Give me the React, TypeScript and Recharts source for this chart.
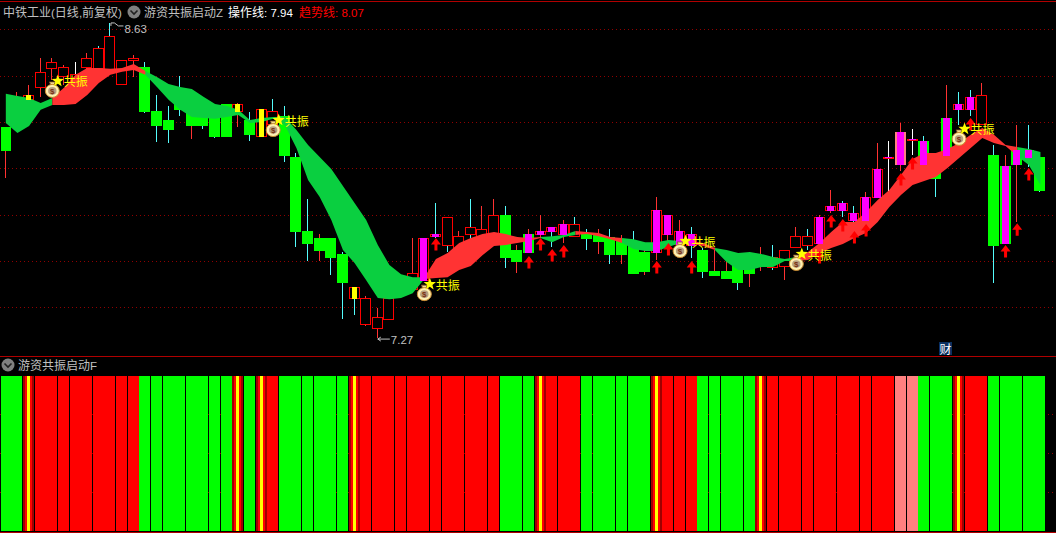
import React from "react";
import { ComposedChart, Bar, Area, Line, XAxis, YAxis, ReferenceLine } from "recharts";

const opens = [8.181,8.311,8.298,8.350,8.432,8.397,8.362,8.436,8.432,8.427,
8.362,8.466,8.440,8.250,8.211,8.306,8.246,8.246,8.237,8.280,
8.246,8.211,8.138,8.190,8.229,8.052,7.732,7.702,7.702,7.633,
7.438,7.326,7.309,7.348,7.451,7.477,7.516,7.706,7.667,7.615,
7.715,7.693,7.693,7.801,7.650,7.719,7.715,7.728,7.715,7.706,
7.723,7.715,7.706,7.697,7.667,7.641,7.637,7.715,7.672,7.667,
7.650,7.559,7.559,7.594,7.572,7.598,7.572,7.577,7.659,7.667,
7.676,7.818,7.818,7.775,7.775,7.875,8.047,8.017,8.125,8.121,
8.039,8.220,8.255,8.255,8.190,8.060,8.013,8.082,8.082,8.052];
const closes = [8.077,8.276,8.319,8.419,8.462,8.440,8.410,8.479,8.522,8.574,
8.470,8.479,8.246,8.185,8.168,8.255,8.185,8.185,8.138,8.138,
8.280,8.147,8.259,8.250,8.056,7.728,7.676,7.646,7.615,7.507,
7.490,7.443,7.361,7.443,7.512,7.551,7.702,7.719,7.793,7.710,
7.749,7.741,7.801,7.615,7.598,7.637,7.732,7.749,7.762,7.762,
7.697,7.684,7.628,7.628,7.546,7.555,7.823,7.801,7.732,7.719,
7.555,7.538,7.525,7.507,7.546,7.628,7.620,7.650,7.710,7.710,
7.793,7.840,7.853,7.810,7.879,8.000,8.052,8.160,8.129,8.017,
7.957,8.056,8.280,8.311,8.319,7.667,7.676,8.017,8.047,7.905];
const highs = [8.181,8.332,8.362,8.479,8.479,8.449,8.462,8.501,8.531,8.630,
8.470,8.492,8.462,8.319,8.272,8.401,8.298,8.276,8.263,8.280,
8.285,8.246,8.259,8.302,8.272,8.069,7.870,7.719,7.702,7.641,
7.490,7.451,7.400,7.443,7.520,7.702,7.702,7.853,7.793,7.732,
7.870,7.840,7.870,7.840,7.672,7.741,7.801,7.749,7.780,7.793,
7.741,7.741,7.741,7.715,7.732,7.650,7.879,7.801,7.780,7.749,
7.659,7.650,7.615,7.615,7.585,7.663,7.672,7.650,7.749,7.741,
7.801,7.909,7.862,7.840,7.900,8.112,8.121,8.198,8.172,8.142,
8.039,8.362,8.332,8.341,8.371,8.103,8.060,8.190,8.190,8.052];
const lows = [7.961,8.263,8.289,8.311,8.384,8.362,8.341,8.384,8.406,8.419,
8.362,8.397,8.242,8.116,8.112,8.229,8.129,8.172,8.134,8.138,
8.181,8.121,8.138,8.177,8.030,7.663,7.603,7.603,7.542,7.352,
7.369,7.322,7.270,7.348,7.443,7.469,7.516,7.702,7.641,7.615,
7.672,7.672,7.693,7.572,7.551,7.637,7.702,7.663,7.680,7.706,
7.650,7.633,7.590,7.590,7.546,7.542,7.607,7.680,7.650,7.615,
7.529,7.538,7.525,7.477,7.490,7.559,7.564,7.520,7.659,7.650,
7.594,7.810,7.793,7.693,7.710,7.875,7.905,7.991,8.060,8.017,
7.879,8.039,8.190,8.229,8.190,7.507,7.676,7.771,8.008,7.900];
const ribbonUpper = [8.324,8.315,8.306,8.285,8.306,8.350,8.406,8.436,8.436,8.432,
8.436,8.453,8.423,8.397,8.367,8.354,8.345,8.311,8.280,8.272,
8.255,8.211,8.220,8.224,8.224,8.168,8.103,8.052,8.000,7.926,
7.853,7.780,7.672,7.585,7.546,7.533,7.533,7.611,7.637,7.680,
7.702,7.719,7.728,7.719,7.706,7.702,7.706,7.710,7.715,7.732,
7.728,7.723,7.706,7.702,7.697,7.684,7.684,7.693,7.689,7.689,
7.680,7.659,7.650,7.637,7.641,7.633,7.620,7.611,7.620,7.641,
7.680,7.728,7.771,7.771,7.814,7.866,7.909,7.974,8.043,8.069,
8.069,8.086,8.112,8.147,8.177,8.147,8.103,8.095,8.086,8.073];
const ribbonLower = [8.198,8.155,8.185,8.255,8.276,8.276,8.280,8.319,8.371,8.406,
8.419,8.427,8.406,8.354,8.298,8.255,8.224,8.220,8.216,8.224,
8.233,8.198,8.203,8.216,8.190,8.090,7.952,7.879,7.780,7.650,
7.594,7.520,7.443,7.438,7.443,7.464,7.525,7.529,7.533,7.564,
7.581,7.628,7.667,7.672,7.680,7.689,7.702,7.684,7.706,7.715,
7.719,7.710,7.697,7.680,7.654,7.646,7.646,7.663,7.680,7.676,
7.667,7.650,7.598,7.564,7.564,7.577,7.577,7.603,7.603,7.607,
7.637,7.659,7.676,7.702,7.723,7.771,7.836,7.888,7.931,7.948,
7.965,8.004,8.047,8.090,8.134,8.112,8.099,8.056,8.017,7.931];
const ribbonTrend = ("ggggrrrrrr"+"rrgggggggg"+"gggggggggg"+"ggggggrrrr"+"rrrrrrgggr"+"rrrggggggr"+"rgggggggrr"+"rrrrrrrrrr"+"rrrrrrrggg").split("");
const overlayKinds = ("--Y-------"+"----------"+"Y-Y-------"+"Y-----MM--"+"-----MMMM-"+"------MMMM"+"----------"+"MMMMMMMMMM"+"-MMM--MMM-").split("");
const wickKinds = ("rrrrrrwrcc"+"rrccccrccc"+"rcrccccrcc"+"crrrrrrccr"+"crrcrrrcrc"+"crcrcrrrrc"+"crrcrrcrrc"+"rrccrrwrwc"+"crccrcrrcc").split("");
const signalKinds = ("ggyrrrrrrr"+"rrgggggggg"+"ygyrgggggg"+"yrrrrrrrrr"+"rrrgggyrrr"+"ggggggyrrr"+"gggggyrrrr"+"rrrrrrrppg"+"ggyrrggggg").split("");
const pinkCandles = [77];
const gridLevels = [8.6,8.4,8.2,8.0,7.8,7.6,7.4];
const lowerGridLevels = [0.25,0.5,0.75];
const arrowPrices: Record<number, number> = {37:7.702,45:7.624,46:7.702,47:7.654,48:7.672,56:7.603,57:7.680,59:7.603,70:7.646,71:7.801,72:7.784,73:7.732,74:7.762,77:7.982,78:8.052,83:8.220,86:7.672,87:7.766,88:8.004};
const resonancePrices: Record<number, number> = {4:8.341,23:8.172,36:7.464,58:7.650,68:7.594,82:8.134};
const extremePrices: Record<number, number> = {9:8.63,32:7.27};
const resonanceLabel = "共振";

const CJK = '"Noto Sans CJK SC", sans-serif';
const LATIN = '"Liberation Sans", Arial, sans-serif';
const COL = { red:"#ff0000", wickRed:"#ff3232", cyan:"#54fcfc", green:"#00ff00", magenta:"#ff00ff", yellow:"#ffff00", pink:"#ff8080", rib:"#ff3333", ribG:"#0acf40", grid:"#900000", border:"#b00000" };
const PAD = { left: 0, right: 9.75 };

const rows = opens.map((open, i) => {
  const t = ribbonTrend[i], pr = ribbonTrend[i-1];
  const band = [ribbonLower[i], ribbonUpper[i]];
  const none = [null, null];
  const ov = overlayKinds[i];
  return {
    i, open, close: closes[i], high: highs[i], low: lows[i],
    candle: [lows[i], highs[i]],
    overlay: ov === "-" ? [closes[i], closes[i]] : [Math.min(open, closes[i]), Math.max(open, closes[i])],
    ov, wick: wickKinds[i], pink: pinkCandles.includes(i),
    redBand: t==="r"||pr==="r" ? band : none,
    greenBand: t==="g"||pr==="g" ? band : none,
    arrow: arrowPrices[i] ?? null,
    resonance: resonancePrices[i] ?? null,
    extreme: extremePrices[i] ?? null,
    signal: 1, kind: signalKinds[i],
  };
});

// pixel-snap a bar to an 11px cell from the start of its band
const snap = (x: number) => Math.floor(x + 0.3);

const CandleShape = (p: any) => {
  const { x, y, height, payload: d } = p;
  const k = height / (d.high - d.low);
  const s = snap(x);
  const left = Math.max(s, 1);
  const w = s + 11 - left;
  const top = Math.round(y + (d.high - Math.max(d.open, d.close)) * k);
  const bot = Math.round(y + (d.high - Math.min(d.open, d.close)) * k);
  const wc = d.wick === "c" ? COL.cyan : d.wick === "w" ? "#ffffff" : COL.wickRed;
  const up = d.close >= d.open;
  return (
    <g shapeRendering="crispEdges">
      <rect x={s + 5} y={y} width={1} height={Math.max(height, 1)} fill={wc} />
      {d.pink ? <rect x={left} y={top} width={w} height={bot - top} fill={COL.pink} />
        : up ? <rect x={left + 0.5} y={top + 0.5} width={w - 1} height={Math.max(bot - top - 1, 1)} fill="#000" stroke={COL.red} />
        : <rect x={left} y={top} width={w} height={Math.max(bot - top, 1)} fill={COL.green} />}
    </g>
  );
};

const OverlayShape = (p: any) => {
  const { x, y, height, payload: d } = p;
  if (d.ov === "-") return <g />;
  const left = snap(x);
  return d.ov === "Y"
    ? <rect shapeRendering="crispEdges" x={left + 3} y={Math.round(y)} width={5} height={Math.max(Math.round(height), 1)} fill={COL.yellow} />
    : <rect shapeRendering="crispEdges" x={left + 2} y={Math.round(y)} width={7} height={Math.max(Math.round(height), 1)} fill={COL.magenta} />;
};

const ArrowDot = (p: any) => {
  const { cx, cy, value, index } = p;
  if (value == null || cy == null) return <g key={index} />;
  return <path key={index} d={`M${cx} ${cy}L${cx+5} ${cy+6.5}L${cx+1.5} ${cy+6.5}L${cx+1.5} ${cy+12.5}L${cx-1.5} ${cy+12.5}L${cx-1.5} ${cy+6.5}L${cx-5} ${cy+6.5}Z`} fill={COL.red} />;
};

const starPath = (cx: number, cy: number, r: number) => {
  const pts: string[] = [];
  for (let n = 0; n < 10; n++) {
    const a = -Math.PI / 2 + (n * Math.PI) / 5;
    const rr = n % 2 ? r * 0.42 : r;
    pts.push(`${cx + rr * Math.cos(a)},${cy + rr * Math.sin(a)}`);
  }
  return pts.join(" ");
};

const ResonanceDot = (p: any) => {
  const { cx, cy, value, index } = p;
  if (value == null || cy == null) return <g key={index} />;
  return (
    <g key={index}>
      <path d={`M${cx-3} ${cy-8}L${cx+3} ${cy-8}L${cx+1.5} ${cy-5}L${cx-1.5} ${cy-5}Z`} fill="#f6dc8c" stroke="#7a4a20" strokeWidth={0.8} />
      <ellipse cx={cx} cy={cy+1} rx={7} ry={6.5} fill="#fff0b0" stroke="#c88a30" strokeWidth={1} />
      <ellipse cx={cx} cy={cy+1} rx={4.2} ry={3.8} fill="#b8a080" />
      <text x={cx} y={cy+4} textAnchor="middle" fontSize={8} fontWeight="bold" fontFamily={LATIN} fill="#7a3010">$</text>
      <polygon points={starPath(cx + 5.5, cy - 9, 6.5)} fill={COL.yellow} />
      <text x={cx + 11.5} y={cy - 3.5} fontSize={12} fontFamily={CJK} fill={COL.yellow}>{resonanceLabel}</text>
    </g>
  );
};

const ExtremeDot = (p: any) => {
  const { cx, cy, value, index } = p;
  if (value == null || cy == null) return <g key={index} />;
  const isHigh = value > 8;
  return isHigh ? (
    <g key={index}>
      <path d={`M${cx+0.5} ${cy}V${cy+3}M${cx+0.5} ${cy}H${cx+4}L${cx+8} ${cy+3}H${cx+13}`} stroke="#c0c0c0" fill="none" strokeWidth={1} />
      <text x={cx + 14} y={cy + 10} fontSize={11.5} fontFamily={LATIN} fill="#c0c0c0">{value.toFixed(2)}</text>
    </g>
  ) : (
    <g key={index}>
      <path d={`M${cx} ${cy+1}H${cx+12}M${cx} ${cy+1}L${cx+3} ${cy-1}M${cx} ${cy+1}L${cx+3} ${cy+3}`} stroke="#c0c0c0" fill="none" strokeWidth={1} />
      <text x={cx + 13} y={cy + 6} fontSize={11.5} fontFamily={LATIN} fill="#c0c0c0">{value.toFixed(2)}</text>
    </g>
  );
};

const SignalShape = (p: any) => {
  const { x, y, height, payload: d } = p;
  const left = Math.max(snap(x), 1);
  const w = 11;
  const Y = Math.round(y), H = Math.round(height);
  if (d.kind === "y") {
    return (
      <g shapeRendering="crispEdges">
        <rect x={left} y={Y} width={w} height={H} fill="#a00000" />
        <rect x={left + 2} y={Y} width={w - 4} height={H} fill={COL.red} />
        <rect x={left + 4} y={Y} width={3} height={H} fill={COL.yellow} />
      </g>
    );
  }
  const fill = d.kind === "g" ? COL.green : d.kind === "p" ? COL.pink : COL.red;
  return <rect shapeRendering="crispEdges" x={left} y={Y} width={w} height={H} fill={fill} />;
};

const Chevron = ({ left, top }: { left: number; top: number }) => (
  <svg style={{ position: "absolute", left, top }} width={14} height={14}>
    <circle cx={7} cy={7} r={6.5} fill="#808080" />
    <path d="M3.5 5.5L7 9L10.5 5.5" stroke="#202020" strokeWidth={1.6} fill="none" />
  </svg>
);

const Txt = ({ left, top, color, children }: any) => (
  <div style={{ position: "absolute", left, top, color, fontFamily: CJK, fontSize: 12, lineHeight: "14px", whiteSpace: "pre" }}>{children}</div>
);
const Num = ({ children }: any) => <span style={{ fontFamily: LATIN, fontSize: 11.5 }}>{children}</span>;

export default function App() {
  return (
    <div style={{ position: "fixed", left: 0, top: 0, width: 1056, height: 533, background: "#000", overflow: "hidden" }}>
      <div style={{ position: "absolute", left: 0, top: 0 }}>
        <ComposedChart width={1056} height={355} data={rows} margin={{ top: 0, right: 0, bottom: 0, left: 0 }} barCategoryGap={0} barGap={0}>
          <XAxis dataKey="i" type="category" hide padding={PAD} />
          <XAxis xAxisId="over" dataKey="i" type="category" hide padding={PAD} />
          <YAxis hide domain={[7.197, 8.729]} width={0} allowDataOverflow />
          {gridLevels.map((g) => (
            <ReferenceLine key={g} y={g} stroke={COL.grid} strokeDasharray="1 3" strokeWidth={1} shapeRendering="crispEdges" zIndex={-1} />
          ))}
          <Bar dataKey="candle" isAnimationActive={false} shape={CandleShape} zIndex={10} />
          <Line dataKey="arrow" stroke="none" isAnimationActive={false} dot={ArrowDot} activeDot={false} zIndex={11} />
          <Area dataKey="greenBand" stroke="none" fill={COL.ribG} fillOpacity={1} isAnimationActive={false} dot={false} activeDot={false} zIndex={12} />
          <Area dataKey="redBand" stroke="none" fill={COL.rib} fillOpacity={1} isAnimationActive={false} dot={false} activeDot={false} zIndex={13} />
          <Bar xAxisId="over" dataKey="overlay" isAnimationActive={false} shape={OverlayShape} zIndex={14} />
          <Line dataKey="resonance" stroke="none" isAnimationActive={false} dot={ResonanceDot} activeDot={false} zIndex={15} />
          <Line dataKey="extreme" stroke="none" isAnimationActive={false} dot={ExtremeDot} activeDot={false} zIndex={16} />
        </ComposedChart>
      </div>
      <div style={{ position: "absolute", left: 0, top: 376 }}>
        <ComposedChart width={1056} height={155} data={rows} margin={{ top: 0, right: 0, bottom: 0, left: 0 }} barCategoryGap={0} barGap={0}>
          <XAxis dataKey="i" type="category" hide padding={PAD} />
          <YAxis hide domain={[0, 1]} width={0} />
          {lowerGridLevels.map((g) => (
            <ReferenceLine key={g} y={g} stroke={COL.grid} strokeDasharray="1 3" strokeWidth={1} shapeRendering="crispEdges" zIndex={-1} />
          ))}
          <Bar dataKey="signal" isAnimationActive={false} shape={SignalShape} zIndex={10} />
        </ComposedChart>
      </div>

      <div style={{ position: "absolute", left: 0, top: 1, width: 1056, height: 1, background: COL.border }} />
      <div style={{ position: "absolute", left: 0, top: 356, width: 1056, height: 1, background: COL.border }} />
      <div style={{ position: "absolute", left: 0, top: 532, width: 1056, height: 1, background: COL.border }} />

      <Txt left={3} top={5} color="#c0c0c0">中铁工业<Num>(</Num>日线<Num>,</Num>前复权<Num>)</Num></Txt>
      <Chevron left={127} top={5} />
      <Txt left={144} top={5} color="#c0c0c0">游资共振启动<Num>Z</Num></Txt>
      <Txt left={228} top={5} color="#ffffff">操作线<Num>: 7.94</Num></Txt>
      <Txt left={299} top={5} color="#ff0000">趋势线<Num>: 8.07</Num></Txt>
      <Chevron left={1} top={358} />
      <Txt left={18} top={358} color="#c0c0c0">游资共振启动<Num>F</Num></Txt>
      <div style={{ position: "absolute", left: 939, top: 342, width: 13, height: 13, background: "#0a3060", color: "#fff", fontFamily: CJK, fontSize: 12, lineHeight: "13px", textAlign: "center" }}>财</div>
    </div>
  );
}
